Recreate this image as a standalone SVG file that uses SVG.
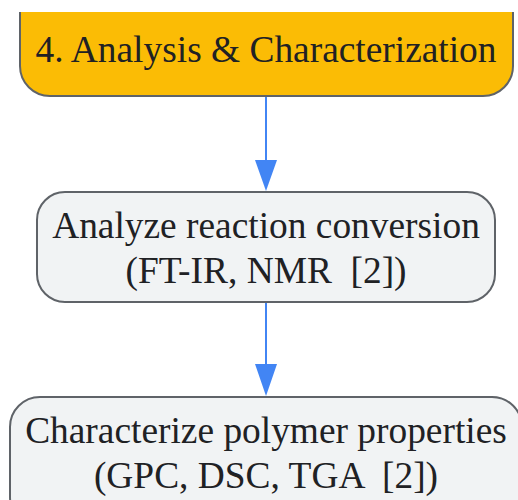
<svg xmlns="http://www.w3.org/2000/svg" width="518" height="500" viewBox="0 0 518 500">
<defs>
<style>
.node rect{stroke:#5f6368;stroke-width:2}
.start rect{fill:#fbbc05}
.step rect{fill:#f1f3f4}
text{font-family:"Liberation Serif","Times New Roman",serif;font-size:37.4px;fill:#202124;text-anchor:middle}
.edge line{stroke:#4285f4;stroke-width:2}
.edge polygon{fill:#4285f4}
</style>
<clipPath id="topclip"><rect x="0" y="12" width="518" height="488"/></clipPath>
</defs>
<rect width="518" height="500" fill="#ffffff"/>
<g id="edges" class="edge">
<line x1="266" y1="97" x2="266" y2="162"/>
<polygon points="255,160 277,160 266,191"/>
<line x1="266" y1="302" x2="266" y2="366"/>
<polygon points="255,364 277,364 266,396"/>
</g>
<g id="node-analysis" class="node start" clip-path="url(#topclip)">
<rect x="20" y="-20" width="493" height="116" rx="30" ry="30"/>
<text x="266" y="62">4. Analysis &amp; Characterization</text>
</g>
<g id="node-conversion" class="node step">
<rect x="37" y="192" width="458" height="110" rx="28" ry="28"/>
<text x="266" y="238">Analyze reaction conversion</text>
<text x="266" y="283" xml:space="preserve">(FT-IR, NMR  [2])</text>
</g>
<g id="node-properties" class="node step">
<rect x="10" y="397" width="512" height="130" rx="30" ry="30"/>
<text x="266" y="443">Characterize polymer properties</text>
<text x="266" y="488" xml:space="preserve">(GPC, DSC, TGA  [2])</text>
</g>
</svg>
